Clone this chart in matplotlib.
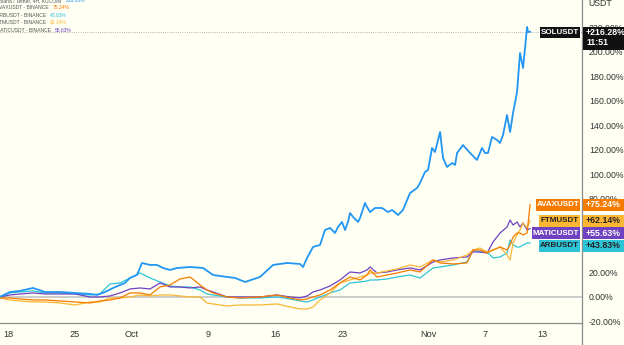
import pandas as pd
import matplotlib
matplotlib.use("Agg")
import matplotlib.pyplot as plt
from matplotlib.patches import Rectangle
from matplotlib.lines import Line2D

START = pd.Timestamp("2023-09-18")

# SOLUSDT, % change vs. start; days counted from Sep 18 00:00
sol_days = [-0.84, 0.21, 1.26, 2.62, 3.87, 5.45, 7.02, 8.59, 9.32, 10.16,
            11.0, 12.25, 12.77, 13.5, 14.03, 14.87, 15.6, 16.23, 16.96, 17.7,
            19.06, 20.42, 21.47, 22.93, 23.77, 24.82, 26.39, 27.75, 29.21, 30.58,
            30.89, 31.31, 31.94, 32.67, 33.19, 33.72, 34.24, 34.55, 34.97, 35.29,
            35.6, 35.81, 36.13, 36.65, 36.86, 37.38, 37.59, 37.91, 38.43, 39.16,
            39.79, 40.21, 40.84, 41.36, 42.09, 42.83, 43.14, 43.66, 43.98, 44.4,
            44.71, 45.24, 45.55, 45.97, 46.49, 46.81, 47.02, 47.64, 48.38, 48.9,
            49.11, 49.63, 49.95, 50.26, 50.68, 51.2, 51.52, 51.83, 52.25, 52.57,
            52.88, 53.3, 53.61, 53.93, 54.35, 54.45, 54.66]
sol_pct = [0, 3.8, 4.7, 7.1, 3.8, 3.8, 3.0, 2.2, 1.4, 3.8,
           7.1, 11.2, 15.3, 17.7, 27.5, 25.9, 25.9, 23.4, 21.8, 23.4,
           24.2, 23.4, 17.7, 16.1, 15.3, 12.0, 16.1, 25.9, 27.5, 26.7,
           24.2, 31.6, 40.6, 42.2, 54.4, 56.1, 52.0, 56.9, 61.0, 54.4,
           61.0, 68.3, 65.1, 61.0, 64.2, 76.5, 73.2, 69.1, 72.4, 72.4,
           69.1, 70.8, 66.7, 70.8, 84.6, 88.7, 92.8, 101.8, 103.4, 121.4,
           118.1, 134.4, 113.2, 105.9, 109.1, 107.5, 117.3, 123.8, 117.3, 113.2,
           111.6, 121.4, 117.3, 117.3, 130.4, 127.9, 125.5, 132.0, 148.3, 134.4,
           149.9, 167.1, 198.9, 186.7, 220.2, 216.1, 216.28]

# the other four pairs share one time grid
alt_days = [-0.84, 0.21, 1.26, 2.62, 3.87, 5.45, 7.02, 8.59, 9.63, 10.68,
            11.73, 12.77, 13.82, 14.87, 15.92, 16.96, 18.01, 19.06, 20.10, 20.84,
            21.47, 22.93, 24.29, 26.39, 28.17, 29.53, 30.58, 31.31, 31.94, 32.67,
            33.72, 34.76, 35.81, 36.86, 37.59, 37.91, 38.64, 39.69, 40.73, 42.09,
            43.14, 44.5, 45.24, 46.6, 48.06, 48.69, 49.42, 50.16, 50.79, 51.52,
            52.25, 52.57, 52.88, 53.3, 53.61, 53.93, 54.35, 54.66]
matic_pct = [-0.24, 1.39, 2.2, 3.02, 2.2, 2.2, 2.2, -0.24, -0.24, 0.57,
             3.02, 6.29, 7.1, 6.29, 11.18, 7.92, 7.92, 7.1, 7.92, 5.47,
             3.84, -0.24, -0.24, -0.24, 1.39, -0.24, -1.06, 0.57, 3.84, 5.47,
             8.73, 13.63, 20.16, 19.35, 21.8, 24.24, 19.35, 20.16, 21.8, 23.43,
             21.8, 28.33, 29.96, 31.59, 32.41, 36.49, 36.49, 35.67, 44.65, 52.0,
             56.9, 62.6, 58.5, 61.0, 56.9, 60.2, 54.5, 55.63]
arb_pct = [-0.24, 3.02, 3.84, 4.65, 3.02, 3.02, 2.2, 1.39, 2.2, 10.37,
           11.18, 15.27, 19.35, 15.27, 12.0, 8.73, 7.92, 7.92, 5.47, 2.2,
           1.39, -0.24, -1.06, -1.06, -0.24, -1.88, -3.51, -4.33, -2.69, -0.24,
           3.02, 5.47, 11.18, 12.0, 12.82, 13.63, 13.63, 14.45, 16.08, 17.71,
           15.27, 23.43, 24.24, 25.88, 28.33, 38.12, 36.49, 36.49, 31.59, 32.41,
           35.67, 46.29, 42.2, 40.57, 40.57, 42.2, 43.84, 43.83]
ftm_pct = [-1.06, -2.69, -3.51, -4.33, -4.33, -5.14, -6.78, -4.33, -4.33, -1.06,
           -1.06, -0.24, 1.39, 0.57, 1.39, 1.39, 0.57, -0.24, -0.24, -5.14,
           -5.96, -7.59, -6.78, -6.78, -5.96, -8.41, -10.04, -10.04, -8.41, -2.69,
           3.02, 11.18, 13.63, 16.08, 17.71, 19.35, 19.35, 20.98, 22.61, 25.88,
           24.24, 29.96, 28.33, 29.96, 34.04, 38.12, 39.76, 36.49, 38.12, 40.57,
           34.04, 29.96, 43.84, 50.37, 54.45, 60.16, 56.08, 62.14]
avax_pct = [-1.06, -1.06, -1.88, -2.69, -2.69, -3.51, -4.33, -5.14, -3.51, -2.69,
            -1.06, 3.02, 3.02, 1.39, 7.92, 9.55, 14.45, 16.08, 9.55, 5.47,
            3.02, -0.24, -1.06, -0.24, 1.39, -1.06, -2.69, -1.88, -0.24, 1.39,
            5.47, 11.18, 16.08, 13.63, 17.71, 21.8, 16.08, 17.71, 19.35, 21.8,
            20.16, 29.96, 27.51, 26.69, 27.51, 38.12, 38.12, 35.67, 38.12, 40.57,
            38.12, 42.2, 48.73, 52.0, 52.0, 50.37, 52.0, 75.24]

tick_dates = ["2023-09-18", "2023-09-25", "2023-10-01", "2023-10-09", "2023-10-16",
              "2023-10-23", "2023-11-01", "2023-11-07", "2023-11-13"]
tick_labels = ["18", "25", "Oct", "9", "16", "23", "Nov", "7", "13"]
y_ticks = list(range(-20, 221, 20))

BG = "#fffff4"
SOL_C = "#2196f3"
MATIC_C = "#6f42c1"
ARB_C = "#2ec4d8"
FTM_C = "#fbb634"
AVAX_C = "#f57c00"
AXIS_C = "#8a8a8a"
TXT_C = "#333333"

plt.rcParams["font.family"] = ["Liberation Sans", "DejaVu Sans"]

W, H = 624, 345
fig = plt.figure(figsize=(W / 100, H / 100), dpi=100, facecolor=BG)
ax = fig.add_axes([0, 1 - 323 / H, 582 / W, 323 / H], facecolor=BG)


def to_time(days):
    return START + pd.to_timedelta(days, unit="D")


ax.axhline(0, color="#c4c4c4", lw=1.2, zorder=1)
ax.axhline(sol_pct[-1], color="#9a9a9a", lw=0.6, ls=(0, (1, 1.6)), zorder=1)

t_alt = to_time(alt_days)
ax.plot(t_alt, arb_pct, color=ARB_C, lw=0.9, zorder=2)
ax.plot(t_alt, matic_pct, color=MATIC_C, lw=0.9, zorder=2)
ax.plot(t_alt, ftm_pct, color=FTM_C, lw=0.9, zorder=2)
ax.plot(t_alt, avax_pct, color=AVAX_C, lw=0.9, zorder=2)
ax.plot(to_time(sol_days), sol_pct, color=SOL_C, lw=1.3, zorder=3)

ax.set_xlim(to_time(-0.84), to_time(60.1))
ax.set_ylim(-21.5, 242.2)

ax.set_xticks(pd.to_datetime(tick_dates))
ax.set_xticklabels(tick_labels)
ax.yaxis.tick_right()
ax.set_yticks(y_ticks)
ax.set_yticklabels([f"{v:.2f}%" for v in y_ticks])
ax.tick_params(axis="both", length=0, colors=TXT_C)
ax.tick_params(axis="y", pad=5, labelsize=6.3)
ax.tick_params(axis="x", pad=5, labelsize=6.6)

for side in ("top", "left"):
    ax.spines[side].set_visible(False)
for side in ("right", "bottom"):
    ax.spines[side].set_color(AXIS_C)
    ax.spines[side].set_linewidth(0.9)

# price scale border continues down through the time axis
fig.add_artist(Line2D([582 / W, 582 / W], [0, 1 - 323 / H], color=AXIS_C,
                      lw=0.9, transform=fig.transFigure))
fig.text(588 / W, 1 - 3 / H, "USDT", fontsize=6.3, color=TXT_C, va="center")


def box(x0, x1, yc, h, color):
    fig.add_artist(Rectangle((x0 / W, (yc - h / 2) / H), (x1 - x0) / W, h / H,
                             transform=fig.transFigure, facecolor=color,
                             edgecolor="none", zorder=5))


def tag(val, shift, name, x0, color, fg):
    yc = ax.transData.transform((0, val))[1] - shift
    box(x0, 580, yc, 12, color)
    box(583, W + 2, yc, 12, color)
    fig.text((x0 + 580) / 2 / W, yc / H, name, color=fg, ha="center", va="center",
             fontsize=5.8, fontweight="bold", zorder=6)
    fig.text(586 / W, yc / H, f"+{val:.2f}%", color=fg, ha="left", va="center",
             fontsize=6.3, fontweight="bold", zorder=6)


tag(avax_pct[-1], 0, "AVAXUSDT", 536, AVAX_C, "white")
tag(ftm_pct[-1], 0, "FTMUSDT", 539, FTM_C, "#222222")
tag(matic_pct[-1], 4.5, "MATICUSDT", 532, MATIC_C, "white")
tag(arb_pct[-1], 3, "ARBUSDT", 539, ARB_C, "#222222")

# SOL tag with countdown under the value
yc = ax.transData.transform((0, sol_pct[-1]))[1] - 1
box(540, 580, yc, 11, "#111111")
box(583, W + 2, yc - 5.5, 23, "#111111")
fig.text(560 / W, yc / H, "SOLUSDT", color="white", ha="center", va="center",
         fontsize=5.8, fontweight="bold", zorder=6)
fig.text(586 / W, yc / H, f"+{sol_pct[-1]:.2f}%", color="white", ha="left",
         va="center", fontsize=6.3, fontweight="bold", zorder=6)
fig.text(586 / W, (yc - 10) / H, "11:51", color="white", ha="left",
         va="center", fontsize=6.3, fontweight="bold", zorder=6)

# legend rows in the top-left corner
legend_rows = [
    ("Solana / Tether, 4H, KUCOIN", sol_pct[-1], SOL_C),
    ("AVAXUSDT - BINANCE", avax_pct[-1], AVAX_C),
    ("ARBUSDT - BINANCE", arb_pct[-1], ARB_C),
    ("FTMUSDT - BINANCE", ftm_pct[-1], FTM_C),
    ("MATICUSDT - BINANCE", matic_pct[-1], MATIC_C),
]
for i, (label, val, color) in enumerate(legend_rows):
    y = 1 - (0.5 + 7.4 * i) / H
    t = fig.text(-4 / W, y, label, fontsize=3.6, color="#555555", va="center")
    ax.annotate(f"{val:.2f}%", xy=(1, 0.5), xycoords=t, xytext=(3, 0),
                textcoords="offset points", fontsize=3.6, color=color,
                va="center", annotation_clip=False)

fig.savefig("out.png", dpi=100, facecolor=BG)
